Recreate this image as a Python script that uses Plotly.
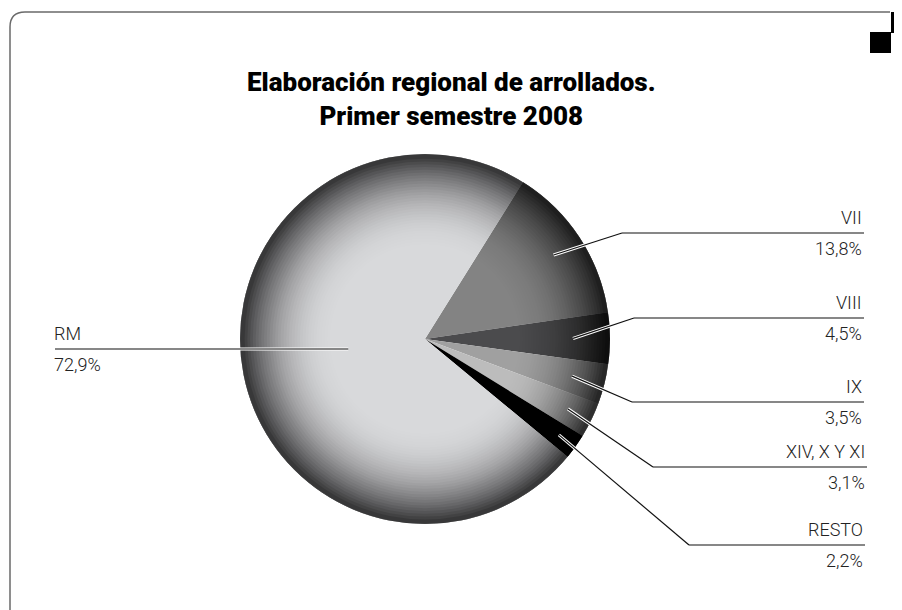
"""Pie chart: Elaboración regional de arrollados, primer semestre 2008."""

import math

import plotly.graph_objects as go

W, H = 902, 610
OFF = 8  # page body margin, compensated so the screenshot lines up

# Data
regions = ["VII", "VIII", "IX", "XIV, X Y XI", "RESTO", "RM"]
shares = [13.8, 4.5, 3.5, 3.1, 2.2, 72.9]
share_labels = ["13,8%", "4,5%", "3,5%", "3,1%", "2,2%", "72,9%"]

COLORS = ["#838383", "#4b4b4d", "#a0a0a0", "#bcbcbc", "#000000", "#d8d9db"]
FONT = "Roboto, Liberation Sans Narrow, sans-serif"

# pie placement in screen pixels
CX, CY, R = 425, 339, 185
ROTATION = 32


def px(x):
    return (x - OFF) / W


def py(y):
    return 1 - (y - OFF) / H


dom = dict(x=[px(CX - R), px(CX + R)], y=[py(CY + R), py(CY - R)])

fig = go.Figure()

fig.add_trace(go.Pie(
    labels=regions,
    values=shares,
    sort=False,
    direction="clockwise",
    rotation=ROTATION,
    marker=dict(colors=COLORS, line=dict(width=0)),
    textinfo="none",
    hoverinfo="label+percent",
    showlegend=False,
    domain=dom,
))

# radial shading towards the rim (stack of thin translucent rings)
n_rings = 36
prev_t = 1.0
for i in range(n_rings):
    h = 0.45 + 0.54 * i / n_rings
    t = 1 - 0.75 * ((h + 0.54 / n_rings - 0.45) / 0.55) ** 2.5
    a = 1 - t / prev_t
    prev_t = t
    fig.add_trace(go.Pie(
        values=[1],
        hole=h,
        sort=False,
        marker=dict(colors=[f"rgba(0,0,0,{a:.4f})"], line=dict(width=0)),
        textinfo="none",
        hoverinfo="skip",
        showlegend=False,
        domain=dom,
    ))

# leader lines and labels
# (elbow x, line y, line end x, radial fraction of the start point)
label_layout = [
    (622, 233, 864, 0.83),
    (634, 318, 864, 0.80),
    (632, 402, 864, 0.82),
    (653, 467, 867, 0.86),
    (689, 545, 865, 0.89),
    (55, 349, 55, 0.42),
]

total = sum(shares)
cum = 0.0
shapes = []
annotations = []
for name, val, lab, (ex, ly, endx, frac) in zip(regions, shares, share_labels, label_layout):
    mid = ROTATION + (cum + val / 2) / total * 360
    cum += val
    ang = math.radians(mid)
    sx = CX + frac * R * math.sin(ang)
    sy = CY - frac * R * math.cos(ang)
    if name == "RM":
        sy = ly
        pts = [(sx, sy), (endx, ly)]
        tx, anchor = endx - 3, "left"
    else:
        pts = [(sx, sy), (ex, ly), (endx, ly)]
        tx, anchor = endx, "right"
    for width, color in [(3.2, "white"), (1.2, "#111111")]:
        for (x0, y0), (x1, y1) in zip(pts[:-1], pts[1:]):
            shapes.append(dict(
                type="line", xref="paper", yref="paper",
                x0=px(x0), y0=py(y0), x1=px(x1), y1=py(y1),
                line=dict(color=color, width=width),
            ))
    annotations.append(dict(
        x=px(tx), y=py(ly - 3), xref="paper", yref="paper",
        text=name, showarrow=False, xanchor=anchor, yanchor="bottom",
        font=dict(family=FONT, size=18, color="#222222", weight=300),
    ))
    annotations.append(dict(
        x=px(tx), y=py(ly + 3), xref="paper", yref="paper",
        text=lab, showarrow=False, xanchor=anchor, yanchor="top",
        font=dict(family=FONT, size=18, color="#222222", weight=300),
    ))

# frame: left + top edge with rounded corner, and the corner squares
shapes.append(dict(
    type="path", xref="paper", yref="paper",
    path=(f"M {px(10)},{py(620)} L {px(10)},{py(27)} "
          f"Q {px(10)},{py(12)} {px(25)},{py(12)} L {px(890)},{py(12)}"),
    line=dict(color="#6a6a6a", width=1.5),
))
shapes.append(dict(
    type="rect", xref="paper", yref="paper",
    x0=px(891), x1=px(905), y0=py(33), y1=py(12),
    fillcolor="black", line=dict(width=0),
))
shapes.append(dict(
    type="rect", xref="paper", yref="paper",
    x0=px(870), x1=px(891), y0=py(53), y1=py(32),
    fillcolor="black", line=dict(width=0),
))

annotations.append(dict(
    x=px(451), y=py(99), xref="paper", yref="paper",
    text="Elaboración regional de arrollados.<br>Primer semestre 2008",
    showarrow=False, xanchor="center", yanchor="middle",
    font=dict(family=FONT, size=26, color="black", weight=900),
))

fig.update_layout(
    width=W,
    height=H,
    margin=dict(l=0, r=0, t=0, b=0),
    paper_bgcolor="white",
    plot_bgcolor="white",
    shapes=shapes,
    annotations=annotations,
)

fig.write_html("out.html")
